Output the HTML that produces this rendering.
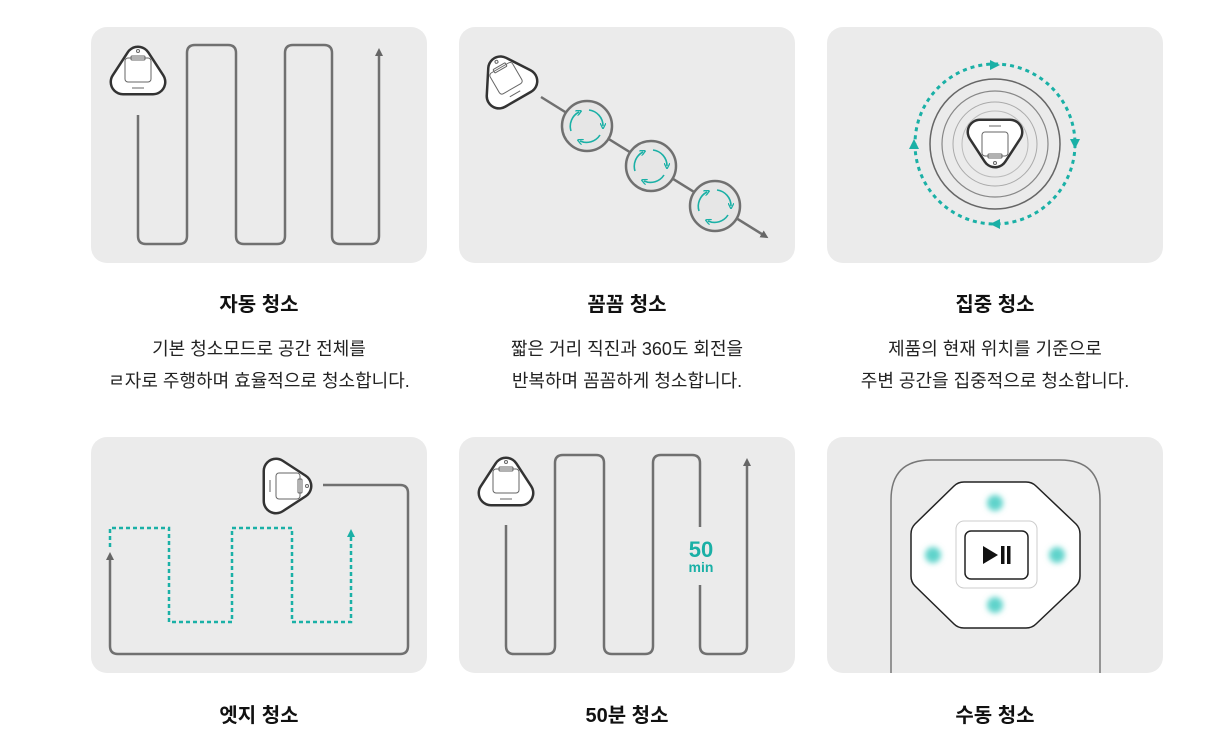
<!DOCTYPE html>
<html><head><meta charset="utf-8"><style>
body{margin:0;background:#fff;width:1229px;height:737px;overflow:hidden;font-family:"Liberation Sans","Noto Sans CJK KR",sans-serif}
.t{position:absolute;width:336px;text-align:center;color:#111}
.h{font-size:20px;font-weight:bold}
.d{font-size:18px;color:#222;line-height:32px}
</style></head><body>
<svg width="1229" height="737" style="position:absolute;left:0;top:0">
<defs>
<g id="rb">
<polygon points="0,-13 15,10 -15,10" fill="#333" stroke="#333" stroke-width="27" stroke-linejoin="round"/>
<polygon points="0,-13 15,10 -15,10" fill="#fff" stroke="#fff" stroke-width="22" stroke-linejoin="round"/>
<rect x="-13" y="-14" width="26" height="24" rx="3" fill="#fff" stroke="#666" stroke-width="1"/>
<rect x="-7" y="-16" width="14" height="4" rx="1" fill="none" stroke="#666" stroke-width="1"/>
<circle cx="0" cy="-21" r="1.5" fill="none" stroke="#666"/>
<line x1="-6" y1="16" x2="6" y2="16" stroke="#666" stroke-width="1"/>
</g>
<marker id="ag" markerWidth="8" markerHeight="8" refX="4" refY="4" orient="auto" markerUnits="userSpaceOnUse"><path d="M0,0 L8,4 L0,8z" fill="#666"/></marker>
<marker id="at" markerWidth="8" markerHeight="8" refX="4" refY="4" orient="auto" markerUnits="userSpaceOnUse"><path d="M0,0 L8,4 L0,8z" fill="#1ab0a6"/></marker>
<marker id="as" markerWidth="6" markerHeight="6" refX="3" refY="3" orient="auto" markerUnits="userSpaceOnUse"><path d="M0,0 L6,3 L0,6" fill="none" stroke="#1ab0a6" stroke-width="1.3"/></marker>
<g id="rot" fill="none" stroke="#1ab0a6" stroke-width="1.6">
<path d="M2,-16 A16,16 0 0 1 16,0" marker-end="url(#as)"/>
<path d="M13,9 A16,16 0 0 1 -7,15" marker-end="url(#as)"/>
<path d="M-16,5 A16,16 0 0 1 -8,-14" marker-end="url(#as)"/>
</g>
<filter id="bl"><feGaussianBlur stdDeviation="3"/></filter>
</defs>
<g fill="#ebebeb">
<rect x="91" y="27" width="336" height="236" rx="16"/>
<rect x="459" y="27" width="336" height="236" rx="16"/>
<rect x="827" y="27" width="336" height="236" rx="16"/>
<rect x="91" y="437" width="336" height="236" rx="16"/>
<rect x="459" y="437" width="336" height="236" rx="16"/>
<rect x="827" y="437" width="336" height="236" rx="16"/>
</g>
<!-- card1 -->
<path d="M138,115 V236 q0,8 8,8 H179 q8,0 8,-8 V53 q0,-8 8,-8 H228 q8,0 8,8 V236 q0,8 8,8 H277 q8,0 8,-8 V53 q0,-8 8,-8 H324 q8,0 8,8 V236 q0,8 8,8 H371 q8,0 8,-8 V52" fill="none" stroke="#707070" stroke-width="2.5" marker-end="url(#ag)"/>
<use href="#rb" x="138" y="72"/>
<!-- card2 -->
<line x1="541" y1="97" x2="765" y2="236" stroke="#707070" stroke-width="2.5" marker-end="url(#ag)"/>
<g fill="#e6e6e6" stroke="#707070" stroke-width="2.5">
<circle cx="587" cy="126" r="25"/><circle cx="651" cy="166" r="25"/><circle cx="715" cy="206" r="25"/></g>
<use href="#rot" x="587" y="126"/><use href="#rot" x="651" y="166"/><use href="#rot" x="715" y="206"/>
<use href="#rb" transform="translate(507,80) rotate(-30)"/>
<!-- card3 -->
<g fill="none">
<circle cx="995" cy="144" r="65" stroke="#666" stroke-width="1.5"/>
<circle cx="995" cy="144" r="53" stroke="#888" stroke-width="1.2"/>
<circle cx="995" cy="144" r="42" stroke="#aaa"/>
<circle cx="995" cy="144" r="33" stroke="#bbb"/>
<circle cx="995" cy="144" r="80" stroke="#1ab0a6" stroke-width="3" stroke-dasharray="4 4"/>
</g>
<g fill="#1ab0a6">
<path d="M990,60 L1000,65 L990,70z"/><path d="M1070,139 L1080,139 L1075,149 z"/>
<path d="M1000,219 L990,224 L1000,229z"/><path d="M909,149 L919,149 L914,139z"/>
</g>
<use href="#rb" transform="translate(995,142) rotate(180)"/>
<!-- card4 -->
<path d="M323,485 H400 q8,0 8,8 V646 q0,8 -8,8 H118 q-8,0 -8,-8 V556" fill="none" stroke="#707070" stroke-width="2.5" marker-end="url(#ag)"/>
<path d="M110,547 V528 H169 V622 H232 V528 H292 V622 H351 V533" fill="none" stroke="#1ab0a6" stroke-width="2.5" stroke-dasharray="4 3" marker-end="url(#at)"/>
<use href="#rb" transform="translate(286,486) rotate(90)"/>
<!-- card5 -->
<path d="M700,585 V646 q0,8 8,8 H739 q8,0 8,-8 V462" fill="none" stroke="#707070" stroke-width="2.5" marker-end="url(#ag)"/>
<path d="M506,525 V646 q0,8 8,8 H547 q8,0 8,-8 V463 q0,-8 8,-8 H596 q8,0 8,8 V646 q0,8 8,8 H645 q8,0 8,-8 V463 q0,-8 8,-8 H692 q8,0 8,8 V527" fill="none" stroke="#707070" stroke-width="2.5"/>
<text x="701" y="557" text-anchor="middle" font-family="Liberation Sans" font-weight="bold" font-size="22" fill="#1ab0a6">50</text>
<text x="701" y="572" text-anchor="middle" font-family="Liberation Sans" font-weight="bold" font-size="14" fill="#1ab0a6">min</text>
<use href="#rb" x="506" y="483"/>
<!-- card6 -->
<path d="M891,673 V500 q0,-40 40,-40 H1060 q40,0 40,40 V673" fill="none" stroke="#777" stroke-width="1.5"/>
<path d="M964,482 H1026 Q1032,482 1036,486 L1076,524 Q1080,528 1080,534 V576 Q1080,582 1076,586 L1036,624 Q1032,628 1026,628 H964 Q958,628 954,624 L915,586 Q911,582 911,576 V534 Q911,528 915,524 L954,486 Q958,482 964,482z" fill="#fff" stroke="#222" stroke-width="1.5"/>
<rect x="956" y="521" width="81" height="67" rx="8" fill="#fff" stroke="#ccc"/>
<rect x="965" y="531" width="63" height="48" rx="6" fill="#fff" stroke="#222" stroke-width="1.5"/>
<path d="M983,546 L998,555 L983,564z" fill="#111"/>
<rect x="1001" y="546" width="3.5" height="18" fill="#111"/><rect x="1007" y="546" width="3.5" height="18" fill="#111"/>
<g fill="#5fd3cb" filter="url(#bl)">
<circle cx="995" cy="503" r="8"/><circle cx="995" cy="605" r="8"/><circle cx="933" cy="555" r="8"/><circle cx="1057" cy="555" r="8"/></g>
</svg>
<div class="t h" style="left:91px;top:288px">자동 청소</div>
<div class="t d" style="left:91px;top:333px">기본 청소모드로 공간 전체를<br>ㄹ자로 주행하며 효율적으로 청소합니다.</div>
<div class="t h" style="left:459px;top:288px">꼼꼼 청소</div>
<div class="t d" style="left:459px;top:333px">짧은 거리 직진과 360도 회전을<br>반복하며 꼼꼼하게 청소합니다.</div>
<div class="t h" style="left:827px;top:288px">집중 청소</div>
<div class="t d" style="left:827px;top:333px">제품의 현재 위치를 기준으로<br>주변 공간을 집중적으로 청소합니다.</div>
<div class="t h" style="left:91px;top:699px">엣지 청소</div>
<div class="t h" style="left:459px;top:699px">50분 청소</div>
<div class="t h" style="left:827px;top:699px">수동 청소</div>
</body></html>
